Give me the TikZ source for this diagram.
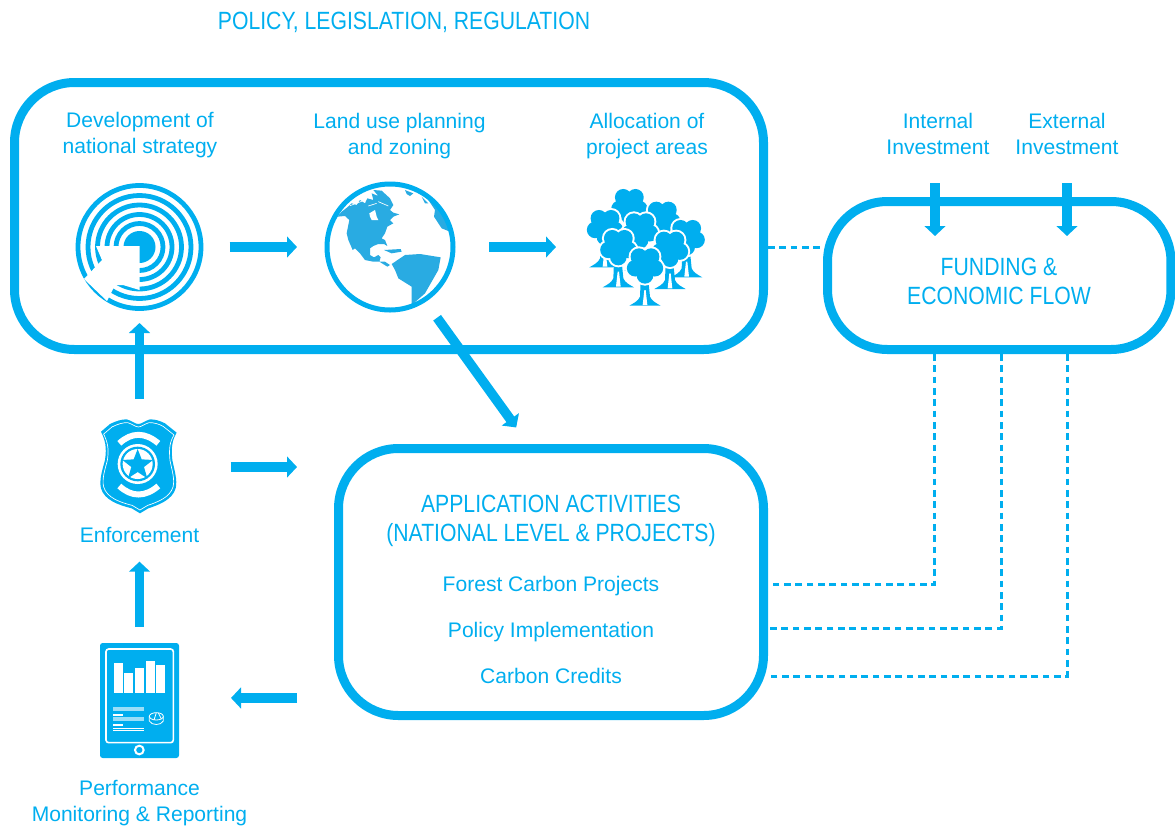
\documentclass[tikz,border=0pt]{standalone}
\usepackage{fontspec}
\setmainfont{Liberation Sans}
\newfontfamily\headfont[FakeStretch=0.85]{Liberation Sans}
\usetikzlibrary{arrows.meta,calc}
\definecolor{flowblue}{HTML}{00AEEF}
\definecolor{landblue}{HTML}{29ABE2}
\tikzset{
    bigbox/.style={draw=flowblue,line width=6.75pt,rounded corners=45pt,inner sep=0pt},
    iconspot/.style={inner sep=0pt,outer sep=0pt},
    bodytext/.style={text=flowblue,font=\fontsize{15.8}{20}\selectfont,align=center,inner sep=0pt},
    headtext/.style={text=flowblue,font=\headfont\fontsize{18.7}{22}\selectfont,align=center,inner sep=0pt},
    flowarrow/.style={draw=flowblue,line width=7.2pt,-{Triangle[length=7.5pt,width=15.5pt]}},
    flowdash/.style={draw=flowblue,line width=2.25pt,dash pattern=on 5pt off 3.5pt},
    treeicon/.pic={
        \fill[flowblue] (-13,45) -- (-15,95) .. controls (-20,108) and (-35,115) .. (-47,122) -- (47,122)
            .. controls (35,115) and (20,108) .. (15,95) -- (10,45) -- cycle;
        \fill[white] (-2,75) -- (-7,120) -- (7,120) -- (2,75) -- cycle;
        \foreach \ang in {90,162,234,306,378} {\fill[white] (\ang:31) circle (31);}
        \foreach \ang in {90,162,234,306,378} {\fill[flowblue] (\ang:31) circle (25);}
        \fill[flowblue] (0,0) circle (32);
    }
}
\begin{document}
\begin{tikzpicture}[x=0.75pt,y=-0.75pt]
    \useasboundingbox (0,0) rectangle (1175,829);
    \node[headtext] (policy) at (404,22) {POLICY, LEGISLATION, REGULATION};

    % the three boxes
    \node[bigbox,minimum width=561.75pt,minimum height=200.25pt] (planning) at (389,216) {};
    \node[bigbox,minimum width=257.6pt,minimum height=111pt] (funding) at (999.25,275.5) {};
    \node[bigbox,minimum width=318.75pt,minimum height=200.25pt] (apps) at (551,582) {};

    \node[headtext] at (999,281.5) (fundtext) {FUNDING \&\\ECONOMIC FLOW};
    \node[headtext] at (551,521) (appstext) {APPLICATION ACTIVITIES\\(NATIONAL LEVEL \& PROJECTS)};
    \node[bodytext,anchor=base] (forest) at (551,591) {Forest Carbon Projects};
    \node[bodytext,anchor=base] (policyimpl) at (551,637) {Policy Implementation};
    \node[bodytext,anchor=base] (credits) at (551,683) {Carbon Credits};

    \node[bodytext] (strategy) at (140,135) {Development of\\national strategy};
    \node[bodytext] (landuse) at (399.5,136) {Land use planning\\and zoning};
    \node[bodytext] (areas) at (647,136) {Allocation of\\project areas};
    \node[bodytext] (intern) at (938,134) {Internal\\Investment};
    \node[bodytext] (extern) at (1067,134) {External\\Investment};
    \node[bodytext] (enforcetext) at (139.5,535) {Enforcement};
    \node[bodytext] (reporttext) at (139.5,803) {Performance\\Monitoring \& Reporting};

    % icon spots
    \node[iconspot,circle,minimum size=96pt] (target) at (139.5,247) {};
    \node[iconspot,circle,minimum size=97.5pt] (globe) at (390,247) {};
    \node[iconspot,circle,minimum size=90pt] (trees) at (645,247) {};
    \node[iconspot,minimum width=61pt,minimum height=72pt] (badge) at (139.5,467) {};
    \node[iconspot,fill=flowblue,rounded corners=2pt,minimum width=59.25pt,minimum height=86.25pt] (tablet) at (139.5,700.5) {};

    % target
    \foreach \rad in {61.5,51.5,42,32.5,23.5} {\draw[flowblue,line width=3.6pt] (target) circle (\rad);}
    \fill[flowblue] (target) circle (16);
    \fill[white] (139.5,246) -- (96,246) -- (102,260) -- (84,279) -- (107,301) -- (115,285) -- (123,285) -- (139.5,290) -- cycle;

    % globe
    \begin{scope}[shift={(310,170)},x=0.25pt,y=-0.25pt]
        \begin{scope}
            \clip (240,228) circle (190);
            \fill[landblue] (82,140) -- (95,125) -- (112,112) -- (125,100) -- (140,105) -- (150,90) -- (165,100) -- (172,85)
                -- (190,90) -- (185,70) -- (205,78) -- (190,60) -- (215,62) -- (240,85) -- (250,105) -- (240,120)
                -- (250,128) -- (268,133) -- (250,140) -- (240,150) -- (250,160) -- (232,170) -- (225,190) -- (215,205)
                -- (225,210) -- (232,228) -- (222,222) -- (205,222) -- (190,228) -- (180,235) -- (180,255) -- (192,262)
                -- (205,255) -- (212,262) -- (208,275) -- (232,290) -- (240,285) -- (225,275) -- (190,275) -- (165,270)
                -- (150,250) -- (135,235) -- (128,240) -- (115,210) -- (110,190) -- (118,150) -- (105,138) -- cycle;
            \fill[white] (178,130) -- (195,120) -- (200,140) -- (205,150) -- (185,150) -- (180,140) -- cycle;
            \draw[white,line width=0.5pt] (120,107) -- (160,92) (175,108) -- (200,100) (205,95) -- (235,108);
            \fill[landblue] (245,282) -- (285,255) -- (330,252) -- (392,262) -- (385,300) -- (345,370) -- (305,405)
                -- (305,350) -- (265,325) -- (255,300) -- cycle;
            \fill[landblue] (222,240) -- (272,237) -- (275,245) -- (245,250) -- cycle;
            \fill[landblue] (355,90) -- (375,120) -- (372,140) -- (395,175) -- (420,185) -- (440,190) -- (425,120) -- (380,70) -- cycle;
            \fill[landblue] (285,60) -- (310,70) -- (300,78) -- (290,72) -- cycle;
            \fill[landblue] (335,80) -- (355,100) -- (345,100) -- cycle;
        \end{scope}
    \end{scope}
    \draw[flowblue,line width=3.75pt] (globe) circle (63);

    % trees
    \begin{scope}[shift={(575,175)},x=0.25pt,y=-0.25pt]
        \pic at (163,92) {treeicon};
        \pic at (262,130) {treeicon};
        \pic at (335,185) {treeicon};
        \pic at (90,155) {treeicon};
        \pic at (195,165) {treeicon};
        \pic at (130,215) {treeicon};
        \pic at (285,220) {treeicon};
        \pic at (210,270) {treeicon};
    \end{scope}

    % badge
    \begin{scope}[shift={(85,410)},x=0.25pt,y=-0.25pt]
        \newcommand{\shieldpath}{(48,65) -- (75,42) .. controls (95,32) and (110,28) .. (125,28) .. controls (140,32) and (150,42) .. (160,42)
            .. controls (170,42) and (180,32) .. (195,28) .. controls (210,28) and (225,32) .. (240,40) -- (275,68)
            .. controls (262,90) and (258,110) .. (262,150) .. controls (268,180) and (278,210) .. (272,235)
            .. controls (262,270) and (220,285) .. (190,295) -- (165,310) -- (140,295)
            .. controls (100,285) and (58,270) .. (48,235) .. controls (42,210) and (52,180) .. (60,150)
            .. controls (66,110) and (60,90) .. (48,65) -- cycle}
        \fill[flowblue] \shieldpath;
        \begin{scope}[shift={(161,168)},scale=0.93,shift={(-161,-168)}]
            \draw[white,line width=0.5pt] \shieldpath;
        \end{scope}
        \draw[white,line width=4.5pt] (103,100) .. controls (140,66) and (180,66) .. (220,100);
        \draw[white,line width=4.5pt] (103,228) .. controls (140,262) and (180,262) .. (220,228);
        \fill[white] (158,162) circle (60);
        \fill[flowblue] (158,162) circle (52);
        \fill[white] (158,162) circle (45);
        \fill[flowblue] (158,117) -- (170,148) -- (204,150) -- (177,171) -- (187,205) -- (158,186) -- (129,205) -- (139,171) -- (112,150) -- (146,148) -- cycle;
    \end{scope}

    % tablet
    \begin{scope}[shift={(90,635)},x=0.25pt,y=-0.25pt]
        \draw[white,line width=1.2pt,rounded corners=2pt] (48,42) rectangle (250,323);
        \draw[white,line width=1.5pt] (148,345) circle (13);
        \foreach \barx/\bartop in {72/85,102/115,135/100,168/78,198/90} {\fill[white] (\barx,\bartop) rectangle (\barx+27,173);}
        \fill[white,opacity=0.6] (68,216) rectangle (162,228);
        \fill[white,opacity=0.6] (68,246) rectangle (162,258);
        \fill[white] (70,238) rectangle (98,243);
        \fill[white] (70,268) rectangle (98,273);
        \fill[white] (68,278) rectangle (162,281);
        \fill[white] (68,285) rectangle (162,288);
        \draw[white,line width=0.6pt] (199,244) ellipse (21 and 11);
        \draw[white,line width=0.6pt] (178,244) -- (178,258) .. controls (185,272) and (213,272) .. (220,258) -- (220,244);
        \draw[white,line width=0.6pt] (199,233) -- (192,255) (205,234) -- (214,252);
    \end{scope}

    % connectors
    \draw[flowarrow,shorten <=19.5pt,shorten >=21pt] ([xshift=48pt]target.center) -- (globe.west);
    \draw[flowarrow,shorten <=25.5pt,shorten >=21.75pt] (globe.east) -- (trees.west);
    \draw[flowarrow,shorten <=15pt,shorten >=9pt] (badge.north) -- (target.south);
    \draw[flowarrow,shorten <=15pt,shorten >=19pt] (globe.-57) -- ($(apps.north)+(-20,4)$);
    \draw[flowarrow,shorten <=37.9pt,shorten >=27.75pt] (badge.east) -- (badge.east -| apps.west);
    \draw[flowarrow,shorten <=12pt,shorten >=14pt] (tablet.north) -- (enforcetext.south);
    \draw[flowarrow,shorten <=27.75pt,shorten >=39pt] ([yshift=1.9pt]tablet.east -| apps.west) -- ([yshift=1.9pt]tablet.east);
    \coordinate (intin) at (935,236);
    \coordinate (extin) at (1067,236);
    \draw[flowarrow,shorten <=21pt] (intern.south -| intin) -- (intin);
    \draw[flowarrow,shorten <=21pt] (extern.south -| extin) -- (extin);

    \draw[flowdash] (planning.east |- target) -- (funding.west |- target);
    \coordinate (flowa) at ([xshift=-48.75pt]funding.south);
    \coordinate (flowb) at ([xshift=1.5pt]funding.south);
    \coordinate (flowc) at ([xshift=51pt]funding.south);
    \draw[flowdash] (flowa) |- ([yshift=2.3pt]apps.east |- forest.mid);
    \draw[flowdash] (flowb) |- ([yshift=4pt]apps.east |- policyimpl.mid);
    \draw[flowdash] (flowc) |- ([yshift=2.5pt]apps.east |- credits.mid);
\end{tikzpicture}
\end{document}
